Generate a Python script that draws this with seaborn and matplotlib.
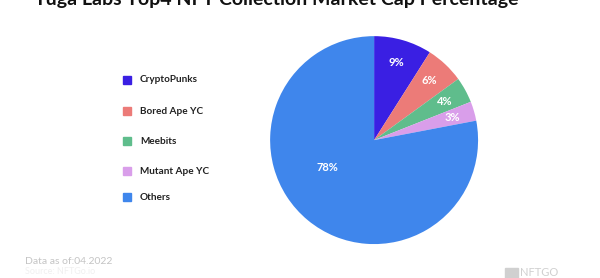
import matplotlib
matplotlib.use("Agg")
import matplotlib.pyplot as plt
import seaborn as sns
import numpy as np
from matplotlib.patches import Rectangle

categories = ["CryptoPunks", "Bored Ape YC", "Meebits", "Mutant Ape YC", "Others"]
values = [9, 6, 4, 3, 78]
colors = ["#3a1fe3", "#ec7b78", "#5fbd8c", "#d99eea", "#3f86ec"]

sns.set_theme(style="white")
plt.rcParams["font.family"] = ["Lato", "DejaVu Sans"]
palette = sns.color_palette(colors)

fig = plt.figure(figsize=(6, 2.78), dpi=100)
fig.patch.set_facecolor("white")

ax = fig.add_axes([0.45, 0.122, 0.347, 0.748])
wedges, texts, autotexts = ax.pie(
    values, colors=palette, startangle=90, counterclock=False,
    autopct=lambda p: f"{p:.0f}%", pctdistance=0.78,
    textprops=dict(color="white", fontsize=8, fontweight="bold"),
    wedgeprops=dict(linewidth=0))
# place the big slice label more inward
ang = np.deg2rad(-150)
autotexts[-1].set_position((0.52 * np.cos(ang), 0.52 * np.sin(ang)))
ax.set_xlim(-1, 1)
ax.set_ylim(-1, 1)
ax.set_aspect("equal")

# title (clipped at top like the reference)
fig.text(33 / 600, 1 - 5 / 278, "Yuga Labs Top4 NFT Collection Market Cap Percentage",
         fontsize=14, fontweight="bold", color="#111111", va="baseline", ha="left")

# legend
rows = [80, 111, 141, 171, 197]
for cat, col, y in zip(categories, palette, rows):
    fy = 1 - y / 278
    fig.patches.append(Rectangle((123 / 600, fy - 4 / 278), 8 / 600, 8 / 278,
                                 transform=fig.transFigure, color=col, zorder=3))
    fig.text(140 / 600, fy, cat, fontsize=7.2, fontweight="bold", color="#222222",
             va="center", ha="left")

fig.text(25 / 600, 1 - 262 / 278, "Data as of:04.2022", fontsize=7.5, color="#c4c4c4",
         va="center", ha="left")
fig.text(25 / 600, 1 - 272 / 278, "Source: NFTGo.io", fontsize=6.5, color="#f0f0f0",
         va="center", ha="left")
fig.patches.append(Rectangle((505 / 600, 0), 13 / 600, 10 / 278,
                             transform=fig.transFigure, color="#d0d0d0", zorder=3))
fig.text(520 / 600, 1 - 272 / 278, "NFTGO", fontsize=8, color="#d0d0d0",
         va="center", ha="left")

fig.savefig("out.png", dpi=100, facecolor="white")
